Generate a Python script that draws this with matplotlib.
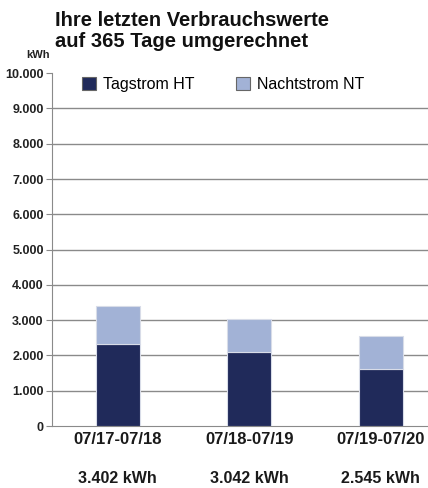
import numpy as np
import matplotlib.pyplot as plt

plt.rcParams['font.family'] = ['Liberation Sans', 'DejaVu Sans']

# Verbrauchswerte (kWh, auf 365 Tage umgerechnet)
zeitraeume = ["07/17-07/18", "07/18-07/19", "07/19-07/20"]
gesamt = [3402, 3042, 2545]
tagstrom_ht = [2320, 2110, 1610]
nachtstrom_nt = [g - h for g, h in zip(gesamt, tagstrom_ht)]
summen_labels = ["3.402 kWh", "3.042 kWh", "2.545 kWh"]
yticks = list(range(0, 10001, 1000))

col_ht = '#202a5a'
col_nt = '#a2b2d6'
grid_col = '#8a8a8a'

fig = plt.figure(figsize=(4.28, 4.88), dpi=100)
ax = fig.add_axes([0.1215, 0.127, 0.8785, 0.723])

x = np.arange(len(zeitraeume))
w = 0.335
ax.bar(x, tagstrom_ht, w, color=col_ht, edgecolor='#d8dce8', linewidth=0.8,
       label='Tagstrom HT', zorder=3)
ax.bar(x, nachtstrom_nt, w, bottom=tagstrom_ht, color=col_nt, edgecolor='#d8dce8',
       linewidth=0.8, label='Nachtstrom NT', zorder=3)

ax.set_xlim(-0.5, 2.36)
ax.set_ylim(0, 10000)
ax.set_yticks(yticks)
ax.set_yticklabels([f"{v:,}".replace(",", ".") for v in yticks],
                   fontweight='bold', fontsize=9, color='#222222')
for v in yticks[1:-1]:
    ax.axhline(v, color=grid_col, linewidth=1, zorder=1)

ax.set_xticks(x)
ax.set_xticklabels(zeitraeume, fontweight='bold', fontsize=12, color='#1a1a1a')
ax.tick_params(axis='x', length=0, pad=4)
ax.tick_params(axis='y', length=4, color=grid_col, pad=2)

for s in ['top', 'right']:
    ax.spines[s].set_visible(False)
ax.spines['left'].set_color(grid_col)
ax.spines['bottom'].set_color(grid_col)

for xi, lab in zip(x, summen_labels):
    ax.annotate(lab, (xi, 0), xytext=(0, -38), textcoords='offset points',
                ha='center', va='center', fontweight='bold', fontsize=11.5,
                color='#1a1a1a', annotation_clip=False)

leg = ax.legend(loc='upper left', bbox_to_anchor=(0.08, 0.99), ncol=2, frameon=False,
                fontsize=11.5, handlelength=0.9, handleheight=0.9, columnspacing=2.6,
                handletextpad=0.4, borderpad=0, borderaxespad=0)
for h in leg.legend_handles:
    h.set_edgecolor('#666666')
    h.set_linewidth(0.8)

fig.text(0.128, 0.978, "Ihre letzten Verbrauchswerte\nauf 365 Tage umgerechnet",
         ha='left', va='top', fontsize=14.5, fontweight='bold', linespacing=1.15,
         color='#111111')
fig.text(0.088, 0.887, "kWh", ha='center', va='center', fontsize=8,
         fontweight='bold', color='#222222')

fig.savefig('out.png', dpi=100)
